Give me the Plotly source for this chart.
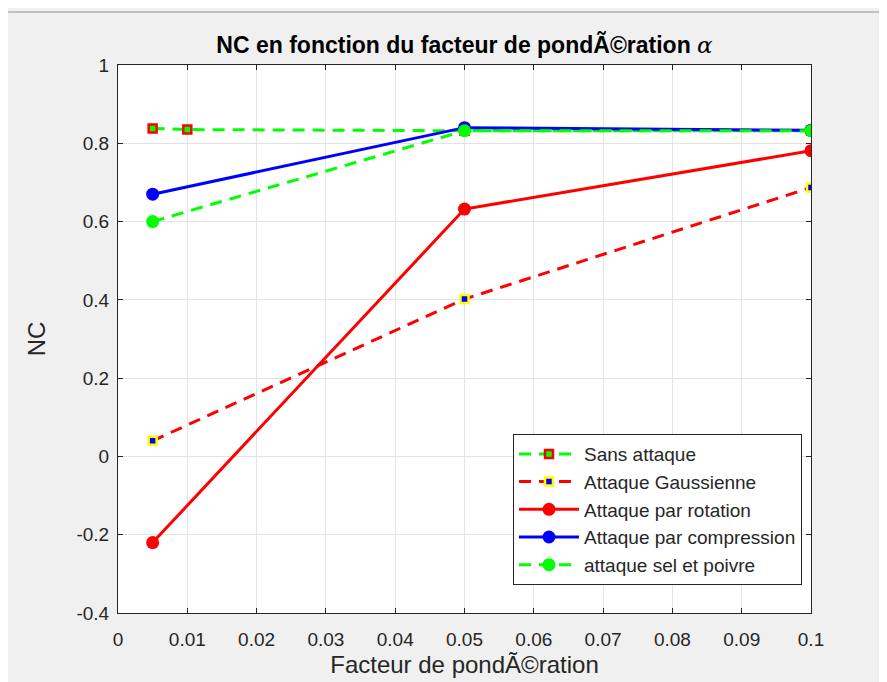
import plotly.graph_objects as go

# Data
x_sans = [0.005, 0.01, 0.05, 0.1]
y_sans = [0.838, 0.835, 0.832, 0.832]

x_gauss = [0.005, 0.05, 0.1]
y_gauss = [0.04, 0.402, 0.687]

x_rot = [0.005, 0.05, 0.1]
y_rot = [-0.22, 0.632, 0.781]

x_comp = [0.005, 0.05, 0.1]
y_comp = [0.670, 0.840, 0.833]

x_sel = [0.005, 0.05, 0.1]
y_sel = [0.600, 0.832, 0.832]

x_ticks = [0, 0.01, 0.02, 0.03, 0.04, 0.05, 0.06, 0.07, 0.08, 0.09, 0.1]
x_ticktext = ["0", "0.01", "0.02", "0.03", "0.04", "0.05", "0.06", "0.07", "0.08", "0.09", "0.1"]
y_ticks = [-0.4, -0.2, 0, 0.2, 0.4, 0.6, 0.8, 1]
y_ticktext = ["-0.4", "-0.2", "0", "0.2", "0.4", "0.6", "0.8", "1"]

FONT = "Liberation Sans, Arial, Helvetica, sans-serif"
DASH = "12px,8px"

fig = go.Figure()
fig.add_trace(go.Scatter(
    x=x_sans, y=y_sans, name="Sans attaque", mode="lines+markers",
    line=dict(color="#00ff00", width=3, dash=DASH),
    marker=dict(symbol="square", size=8, color="#00ff00", line=dict(color="#ff0000", width=2.5))))
fig.add_trace(go.Scatter(
    x=x_gauss, y=y_gauss, name="Attaque Gaussienne", mode="lines+markers",
    line=dict(color="#ff0000", width=3, dash=DASH),
    marker=dict(symbol="square", size=8, color="#0000ff", line=dict(color="#ffff00", width=2.5))))
fig.add_trace(go.Scatter(
    x=x_rot, y=y_rot, name="Attaque par rotation", mode="lines+markers",
    line=dict(color="#ff0000", width=3),
    marker=dict(symbol="circle", size=13, color="#ff0000")))
fig.add_trace(go.Scatter(
    x=x_comp, y=y_comp, name="Attaque par compression", mode="lines+markers",
    line=dict(color="#0000ff", width=3),
    marker=dict(symbol="circle", size=13, color="#0000ff")))
fig.add_trace(go.Scatter(
    x=x_sel, y=y_sel, name="attaque sel et poivre", mode="lines+markers",
    line=dict(color="#00ff00", width=3, dash=DASH),
    marker=dict(symbol="circle", size=13, color="#00ff00")))

axis_common = dict(
    showline=True, linecolor="#262626", linewidth=1, mirror="ticks",
    ticks="inside", ticklen=5, tickcolor="#262626",
    showgrid=True, gridcolor="#e3e3e3", gridwidth=1,
    zeroline=False,
    tickfont=dict(family=FONT, size=19, color="#262626"),
)

fig.update_layout(
    width=887, height=682,
    paper_bgcolor="#f0f0f0", plot_bgcolor="#ffffff",
    margin=dict(l=110, r=84, t=57, b=77),
    font=dict(family=FONT, color="#262626"),
    title=dict(
        text="<b>NC en fonction du facteur de pondÃ©ration</b> <span style=\"font-family:'DejaVu Serif';font-weight:normal\"><i>α</i></span>",
        x=0.5, xref="paper", xanchor="center", y=1 - 37 / 682, yanchor="middle",
        font=dict(family=FONT, size=23, color="#000000")),
    xaxis=dict(axis_common, range=[0, 0.1], tickvals=x_ticks, ticktext=x_ticktext,
               ticklabelstandoff=9,
               title=dict(text="Facteur de pondÃ©ration", font=dict(family=FONT, size=24, color="#262626"), standoff=7)),
    yaxis=dict(axis_common, range=[-0.4, 1], tickvals=y_ticks, ticktext=y_ticktext,
               ticklabelstandoff=4,
               title=dict(text="NC", font=dict(family=FONT, size=24, color="#262626"), standoff=24)),
    legend=dict(
        x=0.987, xanchor="right", y=0.051, yanchor="bottom",
        bgcolor="#ffffff", bordercolor="#262626", borderwidth=1,
        font=dict(family=FONT, size=19, color="#262626"),
        itemwidth=60,
    ),
    showlegend=True,
)

# Window separator line at the top of the figure
fig.add_shape(type="line", xref="paper", yref="paper",
              x0=-110 / 693.6, x1=(693.6 + 84) / 693.6, y0=(548 + 53) / 548, y1=(548 + 53) / 548,
              line=dict(color="#c0c0c0", width=2), layer="below")

fig.write_html("out.html")
